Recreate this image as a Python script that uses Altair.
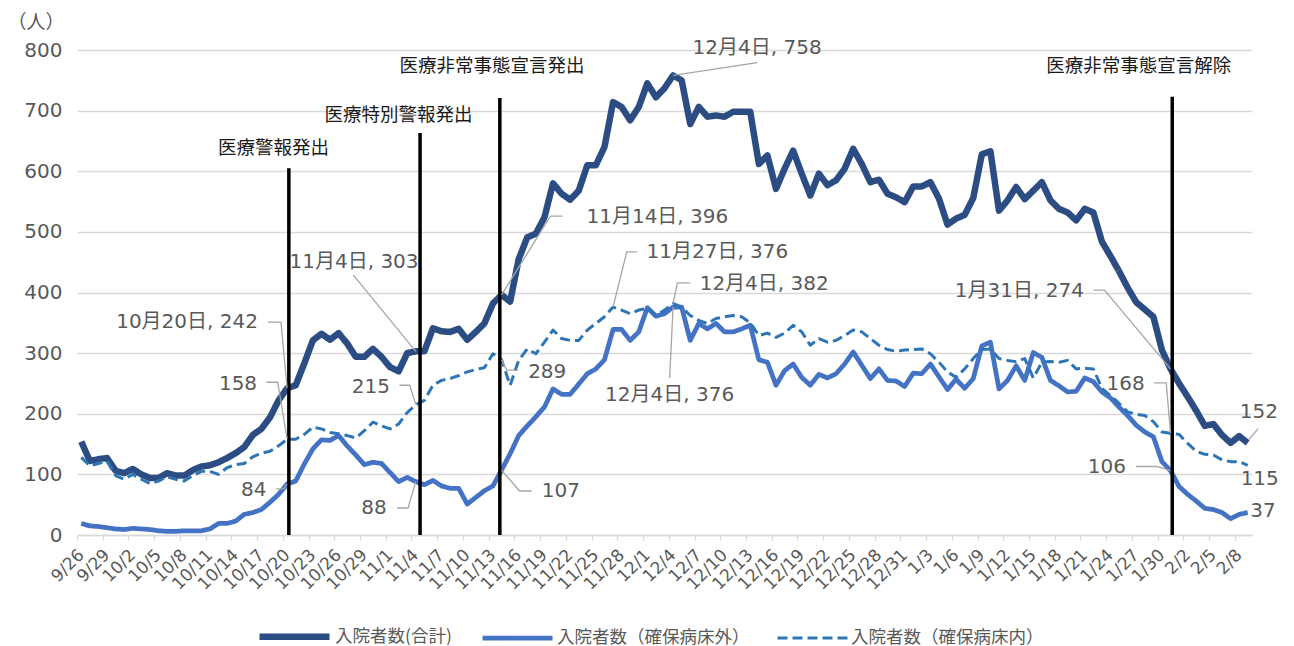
import json
import altair as alt
import pandas as pd

# ---------------- data ----------------
series_names = ["入院者数(合計)", "入院者数（確保病床外）", "入院者数（確保病床内）"]

dates = pd.date_range("2020-09-26", periods=137, freq="D")
date_labels = [f"{d.month}/{d.day}" for d in dates]

total = [
    154, 122, 125, 127, 106, 102, 109, 100, 94, 94,
    102, 98, 98, 107, 113, 115, 120, 127, 135, 145,
    165, 175, 194, 222, 242, 247, 283, 321, 332, 322,
    333, 316, 294, 294, 307, 294, 277, 270, 300, 303,
    303, 341, 336, 335, 340, 322, 335, 349, 382, 396,
    385, 455, 491, 497, 524, 580, 563, 553, 568, 610,
    610, 640, 714, 706, 684, 706, 745, 722, 737, 758,
    750, 678, 706, 690, 692, 690, 698, 698, 698, 612,
    626, 571, 604, 634, 596, 560, 596, 577, 585, 604,
    637, 612, 582, 586, 563, 557, 549, 575, 575, 582,
    555, 512, 522, 528, 556, 628, 633, 535, 552, 574,
    554, 568, 582, 552, 538, 532, 519, 538, 532, 484,
    460, 435, 408, 384, 372, 360, 305, 274, 250, 228,
    205, 180, 183, 165, 152, 163, 152,
]

outside = [
    19, 15, 14, 12, 10, 9, 11, 10, 9, 7,
    6, 6, 7, 7, 7, 10, 19, 19, 23, 34,
    37, 42, 54, 67, 84, 89, 117, 142, 157, 156,
    164, 147, 132, 116, 120, 118, 103, 88, 95, 88,
    83, 90, 81, 77, 77, 51, 62, 73, 81, 107,
    134, 164, 180, 195, 211, 241, 232, 232, 249, 266,
    274, 289, 339, 339, 321, 335, 375, 361, 365, 376,
    376, 321, 349, 340, 349, 335, 335, 340, 346, 289,
    285, 247, 271, 282, 260, 247, 265, 259, 266, 282,
    302, 280, 258, 274, 255, 254, 245, 267, 266, 282,
    261, 240, 257, 242, 258, 312, 318, 241, 255, 279,
    255, 301, 293, 255, 246, 236, 237, 259, 253, 236,
    226, 211, 197, 181, 170, 162, 121, 106, 80, 67,
    56, 44, 42, 37, 27, 34, 37,
]

inside = [
    128, 114, 118, 122, 98, 92, 100, 92, 85, 89,
    96, 92, 89, 98, 105, 105, 100, 111, 116, 118,
    129, 135, 138, 147, 158, 158, 166, 178, 175, 169,
    167, 164, 160, 172, 186, 180, 175, 183, 202, 215,
    222, 247, 255, 258, 263, 269, 273, 276, 299, 289,
    247, 288, 307, 299, 318, 338, 324, 321, 321, 338,
    349, 360, 376, 371, 365, 371, 374, 362, 371, 382,
    376, 362, 354, 349, 357, 360, 362, 360, 350, 329,
    333, 326, 333, 346, 335, 313, 324, 318, 321, 329,
    338, 335, 324, 313, 306, 303, 305, 306, 307, 299,
    285, 269, 260, 274, 291, 306, 307, 291, 288, 286,
    291, 259, 285, 286, 285, 288, 274, 275, 274, 242,
    230, 217, 203, 199, 197, 187, 170, 168, 166, 151,
    138, 133, 132, 124, 121, 121, 115,
]

# event markers (position in day index, top of line, label position)
event_names = ["医療警報発出", "医療特別警報発出", "医療非常事態宣言発出", "医療非常事態宣言解除"]
event_day = [24.2, 39.5, 48.8, 127.2]
event_top = [605, 663, 721, 723]
event_label_day = [22.4, 37.0, 47.9, 123.3]
event_label_v = [638, 693, 773, 774]

# data labels
ann_text = ["10月20日, 242", "158", "84", "11月4日, 303", "215", "88",
            "11月14日, 396", "289", "107", "11月27日, 376", "12月4日, 382",
            "12月4日, 376", "12月4日, 758", "1月31日, 274", "168", "106",
            "152", "115", "37"]
ann_day = [20.6, 20.5, 21.6, 31.8, 36.0, 35.6, 58.9, 52.1, 53.7, 65.9, 72.1,
           68.6, 78.8, 116.9, 124.0, 121.8, 137.3, 137.4, 136.3]
ann_v = [351, 249, 74, 450, 244, 44.5, 524, 269, 72.6, 467, 414,
         231, 803, 403, 249, 112, 203, 93, 39.6]
ann_align = ["right", "right", "right", "center", "right", "right", "left", "left",
             "left", "left", "left", "center", "center", "right", "right", "right",
             "center", "center", "left"]

# leader lines: (id, day, value)
leader_points = [
    (1, 21.76, 351), (1, 23.28, 351), (1, 24, 242),
    (2, 21.6, 252), (2, 22.9, 252), (2, 24, 158),
    (3, 22.7, 76), (3, 23.6, 76), (3, 24, 84),
    (4, 31.7, 429), (4, 39, 303),
    (5, 37.1, 247), (5, 38.3, 247), (5, 39, 215),
    (6, 36.8, 44.5), (6, 38.1, 44.5), (6, 39, 88),
    (7, 56.1, 526), (7, 54.7, 526), (7, 49, 396),
    (8, 50.9, 272), (8, 49.6, 272), (8, 49, 289),
    (9, 52.5, 72.6), (9, 51.1, 72.6), (9, 49, 107),
    (10, 64.8, 467), (10, 63.6, 467), (10, 62, 376),
    (11, 71.0, 416), (11, 69.5, 416), (11, 69, 382),
    (12, 68.6, 259), (12, 69, 376),
    (13, 78.8, 779), (13, 69, 758),
    (14, 118.0, 404), (14, 119.3, 404), (14, 127, 274),
    (15, 125.1, 251), (15, 126.5, 251), (15, 127, 168),
    (16, 123.0, 113), (16, 125.4, 113), (16, 127, 106),
    (17, 137.2, 175), (17, 136.1, 157),
]

# ---------------- tables ----------------
rows = []
for name, vals in zip(series_names, [total, outside, inside]):
    for i, v in enumerate(vals):
        rows.append({"day": i, "series": name, "value": v})
df = pd.DataFrame(rows)

ev = pd.DataFrame({"name": event_names, "day": event_day, "top": event_top,
                   "lday": event_label_day, "lv": event_label_v, "zero": 0})
ann = pd.DataFrame({"text": ann_text, "day": ann_day, "v": ann_v, "align": ann_align})
lead = pd.DataFrame(leader_points, columns=["id", "day", "v"])
lead["k"] = range(len(lead))

# ---------------- styling ----------------
CJK = "Noto Sans CJK JP"
NUM = "DejaVu Sans, Noto Sans CJK JP"
GRAY = "#595959"

xscale = alt.Scale(domain=[-0.5, 136.5], nice=False, zero=False)
yscale = alt.Scale(domain=[0, 800], nice=False)

xaxis = alt.Axis(
    values=[-0.5 + 3 * k for k in range(46)], tickCount=500,
    labelExpr=json.dumps(date_labels) + "[round(datum.value + 0.5)]",
    labelAngle=-45, labelAlign="right", labelBaseline="middle",
    labelOffset=4, labelPadding=12, labelFont=NUM, labelFontSize=17,
    labelColor=GRAY, tickSize=5, tickColor="#D9D9D9", tickWidth=1.3,
    domainColor="#D9D9D9", domainWidth=1.5, grid=False, title=None,
    labelOverlap=False, labelFlush=False, labelSeparation=0,
)
yaxis = alt.Axis(
    values=list(range(0, 801, 100)), grid=True, gridColor="#D9D9D9", gridWidth=1.3,
    domain=False, ticks=False, labelFont=NUM, labelFontSize=20, labelColor=GRAY,
    labelPadding=15, title="（人）", titleAngle=0, titleAlign="left",
    titleBaseline="middle", titleX=-70, titleY=-28, titleFont=CJK,
    titleFontSize=19, titleFontWeight="normal", titleColor=GRAY,
)

legend = alt.Legend(
    orient="none", legendX=179, legendY=548, direction="horizontal",
    symbolType="stroke", symbolSize=4900, labelFont=CJK, labelFontSize=17.5,
    labelColor=GRAY, columnPadding=21, labelOffset=2, labelLimit=400, title=None,
)

lines = alt.Chart(df).mark_line(strokeJoin="round").encode(
    x=alt.X("day:Q", scale=xscale, axis=xaxis),
    y=alt.Y("value:Q", scale=yscale, axis=yaxis),
    color=alt.Color("series:N", scale=alt.Scale(domain=series_names,
                    range=["#2C4C84", "#4472C4", "#2E75B6"]), legend=legend),
    strokeDash=alt.StrokeDash("series:N", scale=alt.Scale(domain=series_names,
                              range=[[1, 0], [1, 0], [10, 5]]), legend=legend),
    strokeWidth=alt.StrokeWidth("series:N", scale=alt.Scale(domain=series_names,
                                range=[6.5, 3, 3.8]), legend=legend),
)

rules = alt.Chart(ev).mark_rule(color="#000000", strokeWidth=3.5).encode(
    x=alt.X("day:Q", scale=xscale),
    y=alt.Y("zero:Q", scale=yscale),
    y2="top:Q",
)

ev_text = alt.Chart(ev).mark_text(font=CJK, fontSize=18.5, color="#1A1A1A",
                                  align="center", baseline="middle").encode(
    x=alt.X("lday:Q", scale=xscale),
    y=alt.Y("lv:Q", scale=yscale),
    text="name:N",
)

leaders = alt.Chart(lead).mark_line(color="#A6A6A6", strokeWidth=1.3).encode(
    x=alt.X("day:Q", scale=xscale),
    y=alt.Y("v:Q", scale=yscale),
    detail="id:N",
    order="k:Q",
)

ann_layers = []
for a in ["left", "center", "right"]:
    ann_layers.append(
        alt.Chart(ann).transform_filter(alt.datum.align == a).mark_text(
            font=NUM, fontSize=20, color=GRAY, align=a, baseline="middle"
        ).encode(
            x=alt.X("day:Q", scale=xscale),
            y=alt.Y("v:Q", scale=yscale),
            text="text:N",
        )
    )

chart = alt.layer(lines, rules, ev_text, leaders, *ann_layers).properties(
    width=1175, height=485,
    autosize=alt.AutoSizeParams(type="none"),
    padding={"left": 69, "top": 42, "right": 34, "bottom": 110},
).configure_view(stroke=None).configure_axisX(labelOverlap=False)

chart.save("out.html", embed_options={"renderer": "svg", "actions": False})
